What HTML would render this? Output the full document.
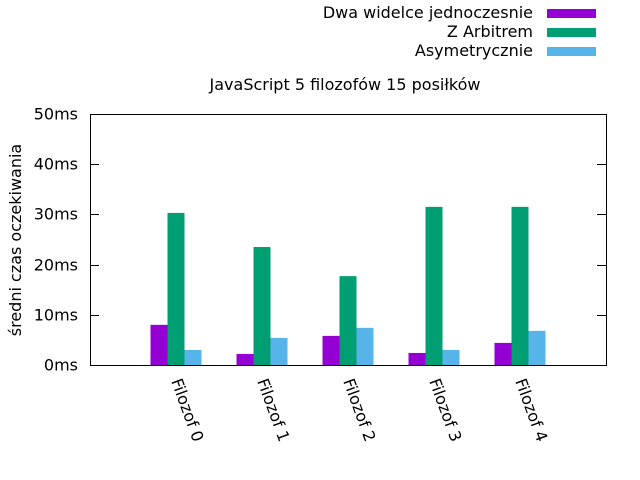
<!DOCTYPE html>
<html><head><meta charset="utf-8"><style>body{margin:0;background:#fff}svg{display:block;font-family:"DejaVu Sans","Liberation Sans",sans-serif}</style></head>
<body>
<svg id="chart" width="640" height="480">
<rect width="640" height="480" fill="#fff"/>
<g id="legend"></g>
<text x="345" y="90" font-size="16" text-anchor="middle">JavaScript 5 filozofów 15 posiłków</text>
<g id="grid"></g>
<g id="bars"></g>
<rect x="90.5" y="114.5" width="516" height="251" fill="none" stroke="#000" stroke-width="1"/>
<text transform="translate(21,240) rotate(-90)" font-size="16" text-anchor="middle">średni czas oczekiwania</text>
</svg>
<script>
const categories=["Filozof 0","Filozof 1","Filozof 2","Filozof 3","Filozof 4"];
const seriesNames=["Dwa widelce jednoczesnie","Z Arbitrem","Asymetrycznie"];
const dwaWidelce=[8.0,2.2,5.8,2.4,4.4];
const zArbitrem=[30.3,23.5,17.7,31.5,31.5];
const asymetrycznie=[3.0,5.4,7.4,3.0,6.8];
const yTicks=[0,10,20,30,40,50];
const yTickLabels=["0ms","10ms","20ms","30ms","40ms","50ms"];
const colors=["#9400d3","#009e73","#56b4e9"];
const series=[dwaWidelce,zArbitrem,asymetrycznie];
const NS="http://www.w3.org/2000/svg";
const L=90,R=606,T=114,B=365;
const yS=v=>B-(v-0)/(50-0)*(B-T);
const xS=i=>L+(i+1)/6*(R-L);
function mk(tag,attrs,parent){const e=document.createElementNS(NS,tag);for(const k in attrs)e.setAttribute(k,attrs[k]);parent.appendChild(e);return e;}
const grid=document.getElementById('grid');
yTicks.forEach((t,i)=>{
  const y=Math.round(yS(t))+0.5;
  const a=mk('line',{x1:L,x2:L+9,y1:y,y2:y,stroke:'#000'},grid);
  
  
  const b=mk('line',{x1:R-9,x2:R,y1:y,y2:y,stroke:'#000'},grid);
  
  
  const tx=mk('text',{x:78,y:y+5,'font-size':16,'text-anchor':'end'},grid);
  tx.textContent=yTickLabels[i];
  
  
});
const bars=document.getElementById('bars');
const bw=17;
categories.forEach((c,i)=>{
  const cx=xS(i);
  series.forEach((s,j)=>{
    const x=cx-bw*1.5+j*bw;
    const r=mk('rect',{x:x,y:yS(s[i]),width:bw,height:B-yS(s[i]),fill:colors[j]},bars);
    
    
  });
  const t=mk('text',{transform:'translate('+(cx-5)+',381) rotate(70)','font-size':16},bars);
  t.textContent=c;
  
  
});
const lg=document.getElementById('legend');
seriesNames.forEach((n,j)=>{
  const y=13+j*19;
  const t=mk('text',{x:533,y:y+5,'font-size':16,'text-anchor':'end'},lg);
  t.textContent=n;
  
  
  const r=mk('rect',{x:547,y:y-4,width:49,height:9,fill:colors[j]},lg);
  
  
});
</script>
</body></html>
